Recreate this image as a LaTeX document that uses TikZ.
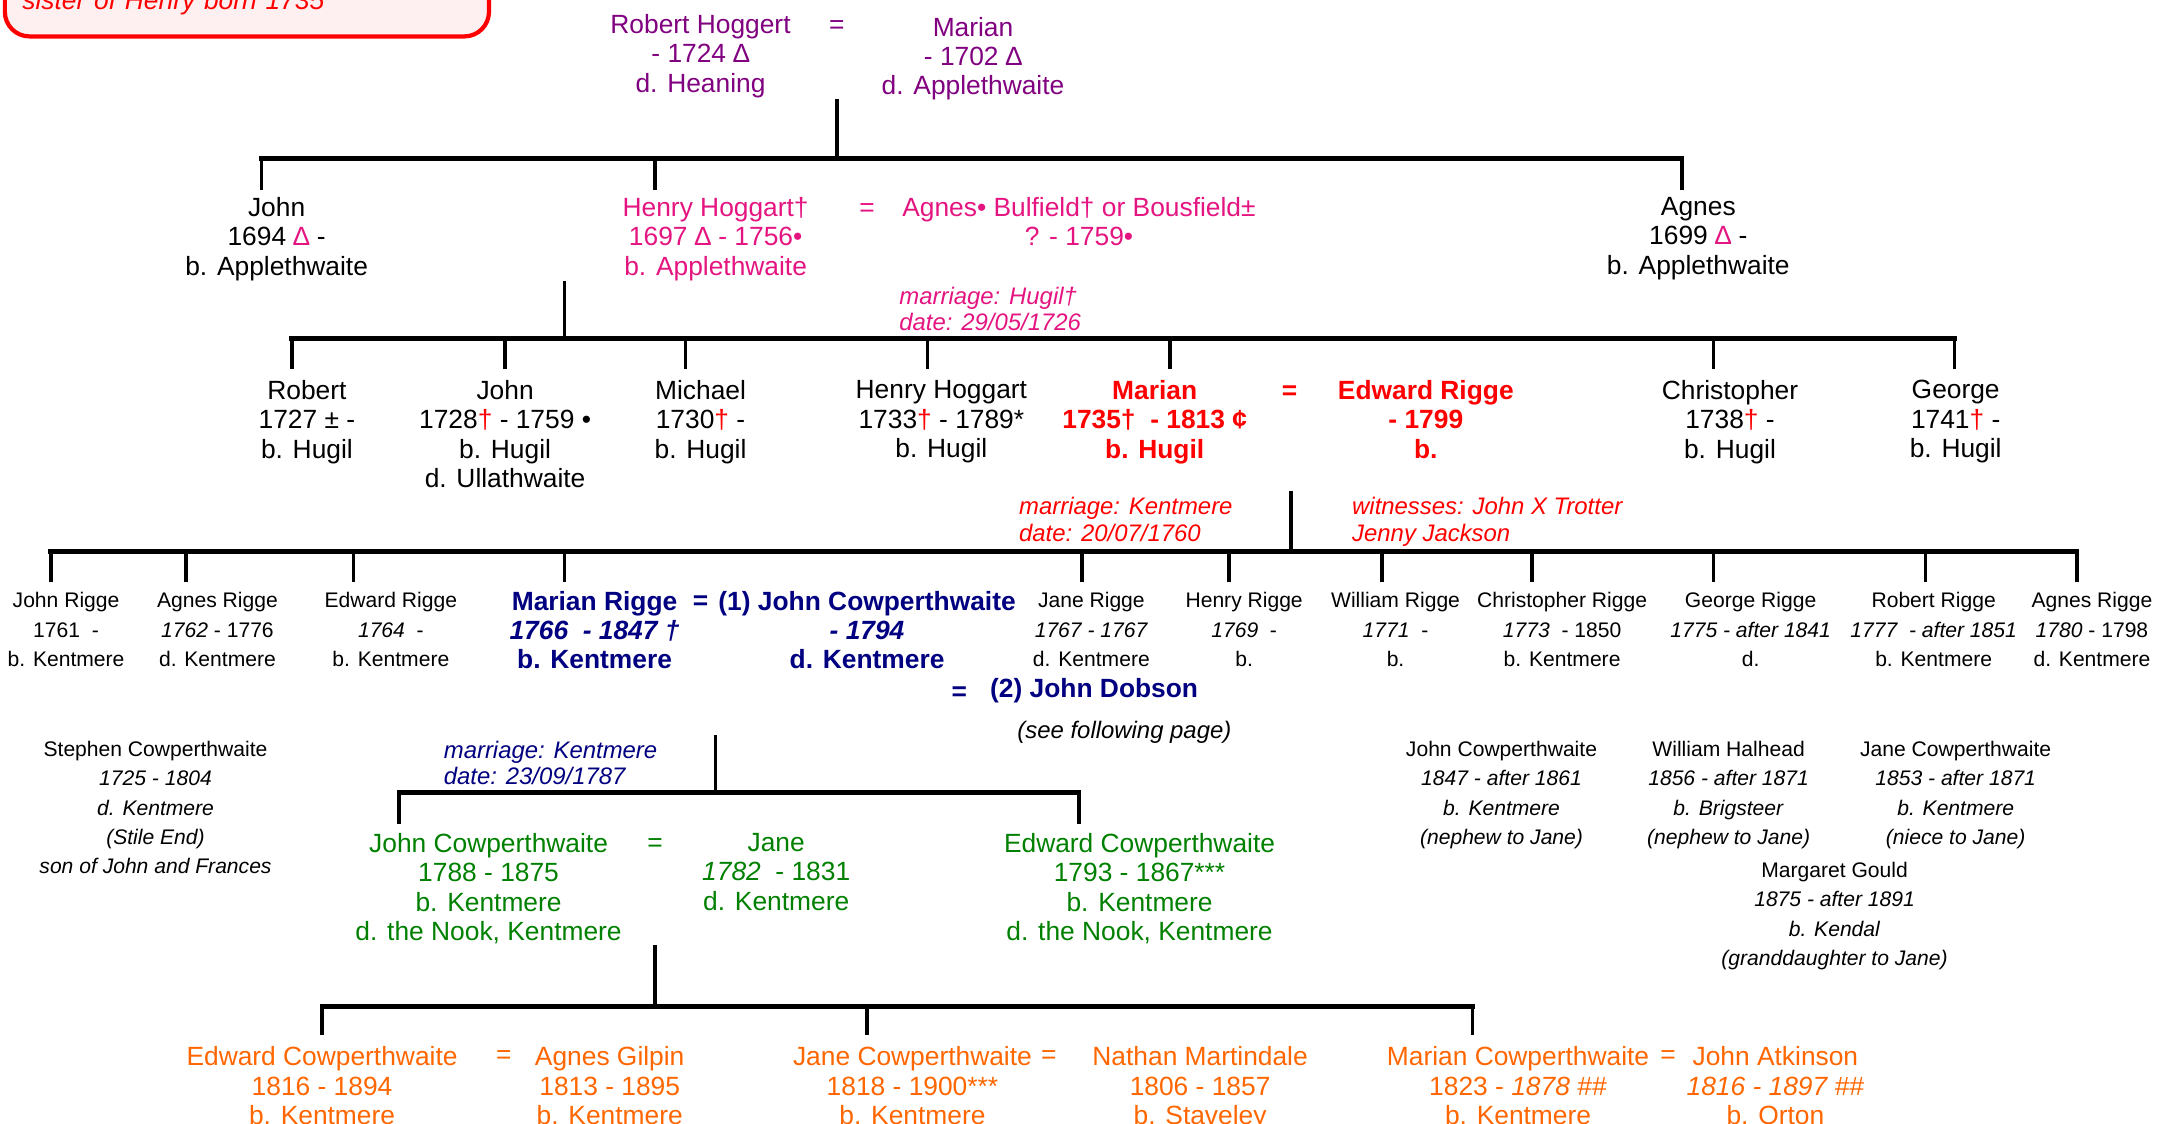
\documentclass[tikz,border=0pt]{standalone}
\usepackage{fontspec}
\setmainfont{Liberation Sans}
\definecolor{hoggpurple}{RGB}{128,0,128}
\definecolor{hoggpink}{RGB}{228,20,128}
\definecolor{riggered}{RGB}{255,0,0}
\definecolor{cowblue}{RGB}{0,0,128}
\definecolor{cowgreen}{RGB}{0,128,0}
\definecolor{coworange}{RGB}{255,102,0}
\definecolor{boxpink}{RGB}{254,240,240}
\newcommand{\fbig}{\fontsize{7.5}{8.35}\selectfont}
\newcommand{\fsmall}{\fontsize{6}{8.35}\selectfont}
\newcommand{\fnote}{\fontsize{6.8}{7.5}\selectfont\itshape}
\newcommand{\rdag}{{\color{riggered}†}}
\newcommand{\pdelta}{{\color{hoggpink}∆}}

\begin{document}
\begin{tikzpicture}[x=0.01376cm,y=-0.01376cm,
    every node/.style={inner sep=0pt},
    person/.style={align=center,anchor=north,font=\fbig},
    kid/.style={align=center,anchor=north,font=\fsmall},
    eq/.style={anchor=base,font=\fbig},
    note/.style={align=left,anchor=north west,font=\fnote},
    link/.style={line width=1pt},
    bar/.style={line width=1.4pt,line cap=rect},
    notebox/.style={draw=riggered,line width=1.2pt,fill=boxpink,rounded corners=7pt,
      align=left,text width=4.49cm,inner xsep=5pt,inner ysep=6.2pt,
      anchor=south west,font=\fbig\itshape,text=riggered}]
  \useasboundingbox (0,0) rectangle (1568,816);

  \node[notebox] (sister) at (2,28) {sister of Henry born 1735};

  % Robert Hoggert and Marian
  \node[person,text=hoggpurple] (robertH) at (509,10) {Robert Hoggert\\- 1724 ∆\\d. Heaning};
  \node[eq,text=hoggpurple] (eq0) at (608,24) {=};
  \node[person,text=hoggpurple] (marianH) at (707,12) {Marian\\- 1702 ∆\\d. Applethwaite};

  \node[person] (john1) at (201,143) {John\\1694 \pdelta{} -\\b. Applethwaite};
  \node[person,text=hoggpink] (henry1) at (520,143) {Henry Hoggart†\\1697 ∆ - 1756•\\b. Applethwaite};
  \node[eq,text=hoggpink] (eq1) at (630,157) {=};
  \node[person,text=hoggpink] (agnesB) at (784,143) {Agnes• Bulfield† or Bousfield±\\? - 1759•};
  \node[person] (agnes1) at (1234,143) {Agnes\\1699 \pdelta{} -\\b. Applethwaite};
  \node[note,text=hoggpink] (wed1) at (653,208) {marriage: Hugil†\\date: 29/05/1726};

  % Henry and Agnes
  \node[person] (robert2) at (223,276) {Robert\\1727 ± -\\b. Hugil};
  \node[person] (john2) at (367,276) {John\\1728\rdag{} - 1759 •\\b. Hugil\\d. Ullathwaite};
  \node[person] (michael2) at (509,276) {Michael\\1730\rdag{} -\\b. Hugil};
  \node[person] (henry2) at (684,276) {Henry Hoggart\\1733\rdag{} - 1789*\\b. Hugil};
  \node[person,text=riggered,font=\fbig\bfseries] (marian2) at (839,276) {Marian\\1735†\ \ - 1813 ¢\\b. Hugil};
  \node[eq,text=riggered,font=\fbig\bfseries] (eq2) at (937,290) {=};
  \node[person,text=riggered,font=\fbig\bfseries] (edward2) at (1036,276) {Edward Rigge\\- 1799\\b.};
  \node[person] (christopher2) at (1257,276) {Christopher\\1738\rdag{} -\\b. Hugil};
  \node[person] (george2) at (1421,276) {George\\1741\rdag{} -\\b. Hugil};
  \node[note,text=riggered] (wed2) at (740,361) {marriage: Kentmere\\date: 20/07/1760};
  \node[note,text=riggered] (witness2) at (982,361) {witnesses: John X Trotter\\Jenny Jackson};

  % Marian and Edward Rigge
  \node[kid] (john3) at (48,430) {John Rigge\\1761\ \ -\\b. Kentmere};
  \node[kid] (agnes3) at (158,430) {Agnes Rigge\\\textit{1762} - 1776\\d. Kentmere};
  \node[kid] (edward3) at (284,430) {Edward Rigge\\\textit{1764}\ \ -\\b. Kentmere};
  \node[person,text=cowblue,font=\fbig\bfseries] (marian3) at (432,429) {Marian Rigge\\\textit{1766\ \ - 1847 †}\\b. Kentmere};
  \node[eq,text=cowblue,font=\fbig\bfseries] (eq3) at (509,443) {=};
  \node[person,text=cowblue,font=\fbig\bfseries] (johnC) at (630,429) {(1) John Cowperthwaite\\\textit{- 1794}\\d. Kentmere};
  \node[eq,text=cowblue,font=\fbig\bfseries] (eq4) at (697,509) {=};
  \node[text=cowblue,font=\fbig\bfseries] (johnD) at (795,502) {(2) John Dobson};
  \node[font=\fnote] (seepage) at (817,532) {(see following page)};
  \node[kid] (jane3) at (793,430) {Jane Rigge\\\textit{1767 - 1767}\\d. Kentmere};
  \node[kid] (henry3) at (904,430) {Henry Rigge\\\textit{1769}\ \ -\\b.};
  \node[kid] (william3) at (1014,430) {William Rigge\\\textit{1771}\ \ -\\b.};
  \node[kid] (christopher3) at (1135,430) {Christopher Rigge\\\textit{1773}\ \ - 1850\\b. Kentmere};
  \node[kid] (george3) at (1272,430) {George Rigge\\\textit{1775 - after 1841}\\d.};
  \node[kid] (robert3) at (1405,430) {Robert Rigge\\\textit{1777\ \ - after 1851}\\b. Kentmere};
  \node[kid] (agnesR3) at (1520,430) {Agnes Rigge\\\textit{1780} - 1798\\d. Kentmere};
  \node[note,text=cowblue] (wed3) at (322,538) {marriage: Kentmere\\date: 23/09/1787};

  \node[kid] (stephen) at (113,538) {Stephen Cowperthwaite\\\textit{1725 - 1804}\\\textit{d. Kentmere}\\\textit{(Stile End)}\\\textit{son of John and Frances}};
  \node[kid] (johnN) at (1091,538) {John Cowperthwaite\\\textit{1847 - after 1861}\\\textit{b. Kentmere}\\\textit{(nephew to Jane)}};
  \node[kid] (william) at (1256,538) {William Halhead\\\textit{1856 - after 1871}\\\textit{b. Brigsteer}\\\textit{(nephew to Jane)}};
  \node[kid] (janeN) at (1421,538) {Jane Cowperthwaite\\\textit{1853 - after 1871}\\\textit{b. Kentmere}\\\textit{(niece to Jane)}};
  \node[kid] (margaret) at (1333,626) {Margaret Gould\\\textit{1875 - after 1891}\\\textit{b. Kendal}\\\textit{(granddaughter to Jane)}};

  % Marian and John Cowperthwaite
  \node[person,text=cowgreen] (john4) at (355,605) {John Cowperthwaite\\1788 - 1875\\b. Kentmere\\d. the Nook, Kentmere};
  \node[eq,text=cowgreen] (eq5) at (476,619) {=};
  \node[person,text=cowgreen] (jane4) at (564,605) {Jane\\\textit{1782}\ \ - 1831\\d. Kentmere};
  \node[person,text=cowgreen] (edward4) at (828,605) {Edward Cowperthwaite\\1793 - 1867***\\b. Kentmere\\d. the Nook, Kentmere};

  % John and Jane
  \node[person,text=coworange] (edward5) at (234,760) {Edward Cowperthwaite\\1816 - 1894\\b. Kentmere};
  \node[eq,text=coworange] (eq6) at (366,773) {=};
  \node[person,text=coworange] (agnes5) at (443,760) {Agnes Gilpin\\1813 - 1895\\b. Kentmere};
  \node[person,text=coworange] (jane5) at (663,760) {Jane Cowperthwaite\\1818 - 1900***\\b. Kentmere};
  \node[eq,text=coworange] (eq7) at (762,773) {=};
  \node[person,text=coworange] (nathan5) at (872,760) {Nathan Martindale\\1806 - 1857\\b. Staveley};
  \node[person,text=coworange] (marian5) at (1103,760) {Marian Cowperthwaite\\1823 - \textit{1878 \#\#}\\b. Kentmere};
  \node[eq,text=coworange] (eq8) at (1212,773) {=};
  \node[person,text=coworange] (john5) at (1290,760) {John Atkinson\\\textit{1816 - 1897 \#\#}\\b. Orton};

  % lines of descent
  \coordinate (m0) at (608,72);   \coordinate (j0) at (608,115);
  \coordinate (m1) at (410,204);  \coordinate (j1) at (410,246);
  \coordinate (m2) at (938,357);  \coordinate (j2) at (938,401);
  \coordinate (m3) at (520,534);  \coordinate (j3) at (520,576);
  \coordinate (m4) at (476,687);  \coordinate (j4) at (476,731);
  \foreach \n/\x in {a/190,b/476,c/1222} \coordinate (k0\n) at (\x,138);
  \foreach \n/\x in {a/212,b/367,c/498,d/674,e/850,f/1245,g/1420} \coordinate (k1\n) at (\x,268);
  \foreach \n/\x in {a/37,b/135,c/257,d/410,e/786,f/893,g/1004,h/1113,i/1245,j/1399,k/1509}
    \coordinate (k2\n) at (\x,423);
  \foreach \n/\x in {a/290,b/784} \coordinate (k3\n) at (\x,599);
  \foreach \n/\x in {a/234,b/630,c/1070} \coordinate (k4\n) at (\x,752);

  \foreach \g/\first/\last/\kids in {0/a/c/{a,b,c},1/a/g/{a,b,c,d,e,f,g},
      2/a/k/{a,b,c,d,e,f,g,h,i,j,k},3/a/b/{a,b},4/a/c/{a,b,c}} {
    \draw[link] (m\g) -- (j\g);
    \draw[bar] (j\g -| k\g\first) -- (j\g -| k\g\last);
    \foreach \n in \kids \draw[link] (j\g -| k\g\n) -- (k\g\n);
  }
\end{tikzpicture}
\end{document}
